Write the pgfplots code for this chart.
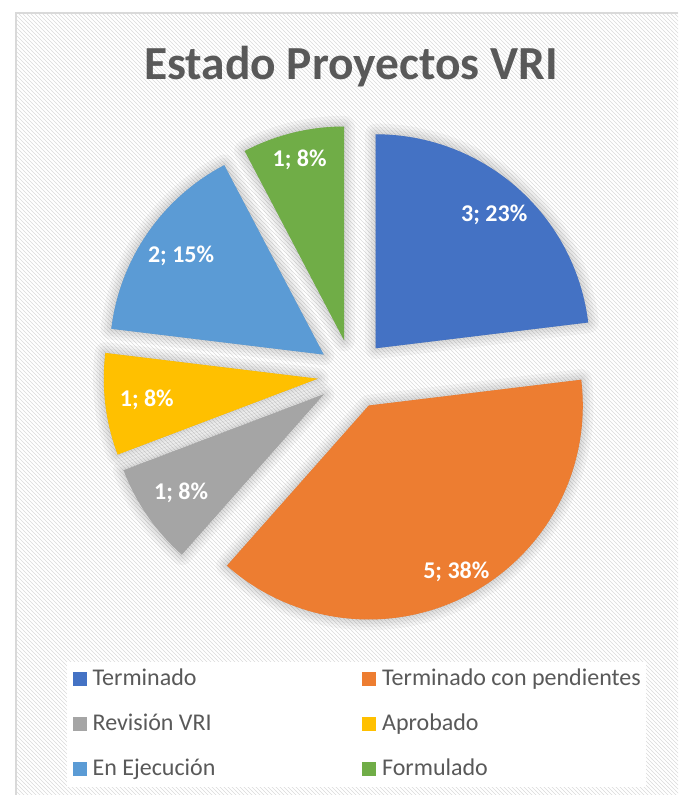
\documentclass[border=0pt]{standalone}
\usepackage{fontspec}
\setmainfont{Carlito}
\usepackage{pgfplots}
\usepackage{pgfplotstable}
\pgfplotsset{compat=1.18}
\usetikzlibrary{patterns}

\definecolor{cTer}{HTML}{4472C4}
\definecolor{cPen}{HTML}{ED7D31}
\definecolor{cRev}{HTML}{A5A5A5}
\definecolor{cApr}{HTML}{FFC000}
\definecolor{cEje}{HTML}{5B9BD5}
\definecolor{cFor}{HTML}{70AD47}
\definecolor{txt}{HTML}{595959}
\definecolor{borde}{HTML}{D9D9D9}

% name, count, colour, label radius (fraction of R)
\pgfplotstableread[col sep=comma]{
name,value,color,lr
Terminado,3,cTer,0.835
Terminado con pendientes,5,cPen,0.88
Revisión VRI,1,cRev,0.81
Aprobado,1,cApr,0.805
En Ejecución,2,cEje,0.81
Formulado,1,cFor,0.87
}\datos

% pie geometry in pixel units (y up)
\def\cx{346.5}
\def\cy{420.5}
\def\R{214}
\def\ex{35}

\tikzset{lbl/.style={font=\bfseries\fontsize{18}{20}\selectfont, text=white, inner sep=0pt}}

\begin{document}
\def\total{0}
\pgfplotsforeachungrouped \i in {0,...,5}{%
  \pgfplotstablegetelem{\i}{value}\of\datos
  \pgfmathsetmacro\total{\total+\pgfplotsretval}}
\begin{tikzpicture}
\begin{axis}[
  x=0.75pt, y=0.75pt,
  xmin=0, xmax=672, ymin=0, ymax=795,
  enlargelimits=false,
  hide axis,
  legend columns=2,
  legend cell align=left,
  legend image code/.code={\fill[#1] (0pt,-4.5pt) rectangle (10.5pt,6pt);},
  legend style={draw=none, fill=white, inner sep=4pt,
    at={(axis cs:61,133)}, anchor=north west,
    font=\fontsize{18}{20}\selectfont, text=txt,
    nodes={inner sep=0pt, text height=13.5pt, text depth=4.5pt},
    row sep=15.75pt, column sep=4.5pt,
    /tikz/every even column/.append style={column sep=110pt}},
]
% background, hatch and frame
\addplot[forget plot, draw=none, fill=white] coordinates {(0,0) (672,0) (672,795) (0,795)} -- cycle;
\addplot[forget plot, draw=none, pattern=north west lines, pattern color=black!14] coordinates {(10,0) (672,0) (672,782) (10,782)} -- cycle;
\addplot[forget plot, draw=borde, line width=1.2pt] coordinates {(10,0) (10,782) (672,782)};

% soft shadows
\def\cum{0}
\pgfplotsforeachungrouped \i in {0,...,5}{%
  \pgfplotstablegetelem{\i}{value}\of\datos \let\v\pgfplotsretval
  \pgfmathsetmacro\a{360*\cum/\total}
  \pgfmathsetmacro\b{360*(\cum+\v)/\total}
  \pgfmathsetmacro\m{(\a+\b)/2}
  \pgfmathsetmacro\ox{\cx+\ex*sin(\m)}
  \pgfmathsetmacro\oy{\cy+\ex*cos(\m)}
  \pgfplotsforeachungrouped \w in {16,11,7,3}{%
    \edef\cmd{\noexpand\addplot[forget plot, draw=black, fill=black, opacity=0.035,
      line width=\w pt, line join=round, domain=\a:\b, samples=60]
      ({\ox+\R*sin(x)},{\oy+\R*cos(x)}) -- (axis cs:\ox,\oy) -- cycle;}%
    \cmd}%
  \pgfmathsetmacro\cum{\cum+\v}%
}

% slices, labels, legend entries
\def\cum{0}
\pgfplotsforeachungrouped \i in {0,...,5}{%
  \pgfplotstablegetelem{\i}{value}\of\datos \let\v\pgfplotsretval
  \pgfplotstablegetelem{\i}{color}\of\datos \let\col\pgfplotsretval
  \pgfplotstablegetelem{\i}{name}\of\datos \let\nm\pgfplotsretval
  \pgfplotstablegetelem{\i}{lr}\of\datos \let\lr\pgfplotsretval
  \pgfmathsetmacro\a{360*\cum/\total}
  \pgfmathsetmacro\b{360*(\cum+\v)/\total}
  \pgfmathsetmacro\m{(\a+\b)/2}
  \pgfmathsetmacro\ox{\cx+\ex*sin(\m)}
  \pgfmathsetmacro\oy{\cy+\ex*cos(\m)}
  \pgfmathsetmacro\lx{\ox+\lr*\R*sin(\m)}
  \pgfmathsetmacro\ly{\oy+\lr*\R*cos(\m)}
  \pgfmathtruncatemacro\pct{round(100*\v/\total)}
  \edef\cmd{\noexpand\addplot[fill=\col, draw=none, domain=\a:\b, samples=90]
      ({\ox+\R*sin(x)},{\oy+\R*cos(x)}) -- (axis cs:\ox,\oy) -- cycle;
    \noexpand\addlegendentry{\nm}
    \noexpand\node[lbl] at (axis cs:\lx,\ly) {\v; \pct\noexpand\%};}%
  \cmd
  \pgfmathsetmacro\cum{\cum+\v}%
}

\node[font=\bfseries\fontsize{35.6}{40}\selectfont, text=txt, anchor=base]
  at (axis cs:345,715) {Estado Proyectos VRI};
\coordinate (bbsw) at (axis cs:0,0);
\coordinate (bbne) at (axis cs:672,795);
\end{axis}
\pgfresetboundingbox
\path[use as bounding box] (bbsw) rectangle (bbne);
\end{tikzpicture}
\end{document}
